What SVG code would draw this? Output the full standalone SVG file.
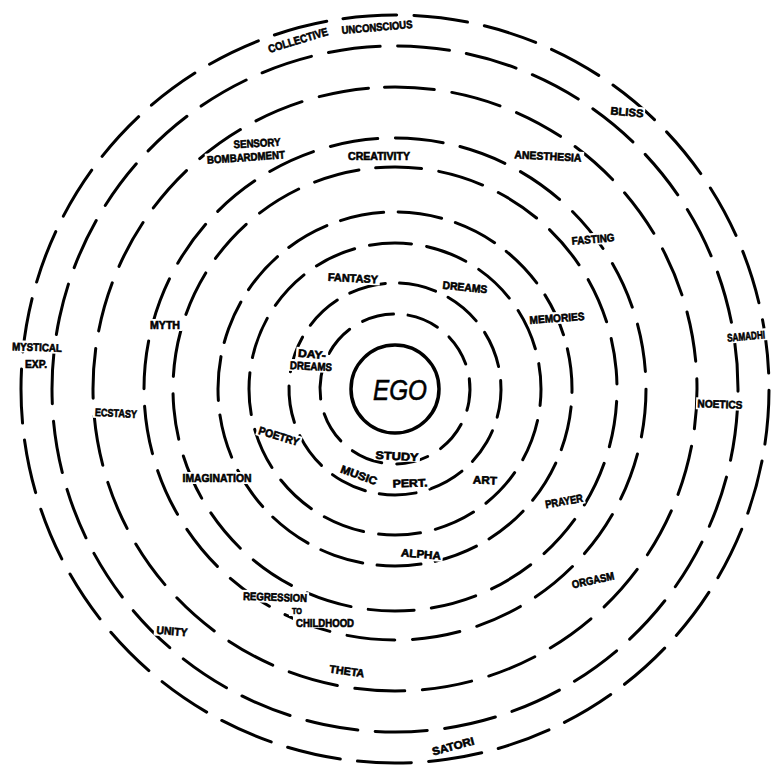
<svg xmlns="http://www.w3.org/2000/svg" width="776" height="768" viewBox="0 0 776 768">
<style>
.ring{fill:none;stroke:#000;stroke-width:3;stroke-linecap:round}
.lb{font-family:"Liberation Sans",Arial,sans-serif;font-weight:bold;font-size:11px;fill:#000;stroke:#000;stroke-width:0.6;text-anchor:middle}
.ego{font-family:"Liberation Sans",Arial,sans-serif;font-style:italic;font-size:30px;fill:#000;stroke:#000;stroke-width:0.6;text-anchor:middle}
.k{fill:#000}
</style>
<defs>
<mask id="gaps" maskUnits="userSpaceOnUse" x="0" y="0" width="776" height="768">
<rect width="776" height="768" fill="#fff"/>
<rect class="k" x="265" y="34" width="66" height="12" transform="rotate(-17 298 40)"/>
<rect class="k" x="340" y="21" width="75" height="12" transform="rotate(-5 377 27)"/>
<rect class="k" x="608" y="106" width="37" height="12" transform="rotate(5 627 112)"/>
<rect class="k" x="232" y="137" width="51" height="12" transform="rotate(-3 257 143)"/>
<rect class="k" x="205" y="151" width="82" height="12" transform="rotate(-4 246 157)"/>
<rect class="k" x="346" y="150" width="66" height="12"/>
<rect class="k" x="513" y="150" width="71" height="12" transform="rotate(3 548 156)"/>
<rect class="k" x="570" y="233" width="47" height="12" transform="rotate(-5 593 239)"/>
<rect class="k" x="528" y="312" width="59" height="12" transform="rotate(-4 557 318)"/>
<rect class="k" x="724" y="330" width="44" height="12" transform="rotate(-5 746 336)"/>
<rect class="k" x="696" y="398" width="49" height="12" transform="rotate(2 720 404)"/>
<rect class="k" x="10" y="341" width="54" height="12" transform="rotate(2 37 347)"/>
<rect class="k" x="23" y="358" width="26" height="12"/>
<rect class="k" x="148" y="319" width="34" height="12"/>
<rect class="k" x="93" y="407" width="46" height="12" transform="rotate(3 116 413)"/>
<rect class="k" x="181" y="472" width="73" height="12"/>
<rect class="k" x="256" y="430" width="46" height="12" transform="rotate(17 279 436)"/>
<rect class="k" x="296" y="348" width="32" height="12" transform="rotate(5 312 354)"/>
<rect class="k" x="288" y="360" width="46" height="12" transform="rotate(3 311 366)"/>
<rect class="k" x="326" y="272" width="54" height="12" transform="rotate(3 353 278)"/>
<rect class="k" x="441" y="281" width="49" height="12" transform="rotate(6 465 287)"/>
<rect class="k" x="374" y="451" width="46" height="10" transform="rotate(3 397 457)"/>
<rect class="k" x="337" y="469" width="44" height="12" transform="rotate(20 359 475)"/>
<rect class="k" x="391" y="477" width="39" height="12" transform="rotate(-2 410 483)"/>
<rect class="k" x="471" y="474" width="28" height="12" transform="rotate(2 485 480)"/>
<rect class="k" x="543" y="495" width="42" height="12" transform="rotate(-10 564 501)"/>
<rect class="k" x="399" y="548" width="44" height="12" transform="rotate(5 421 554)"/>
<rect class="k" x="570" y="574" width="47" height="12" transform="rotate(-12 593 580)"/>
<rect class="k" x="241" y="591" width="68" height="12" transform="rotate(2 275 597)"/>
<rect class="k" x="289" y="606" width="16" height="10"/>
<rect class="k" x="293" y="616" width="64" height="12"/>
<rect class="k" x="154" y="625" width="35" height="12" transform="rotate(5 172 631)"/>
<rect class="k" x="327" y="665" width="39" height="12" transform="rotate(8 347 671)"/>
<rect class="k" x="431" y="741" width="45" height="11" transform="rotate(-15 453 746)"/>
</mask>
</defs>
<rect width="776" height="768" fill="#fff"/>
<g id="connectors" mask="url(#gaps)">
<circle class="ring" cx="395" cy="389" r="75" stroke-dasharray="32 15.1" transform="rotate(-80 395 389)"/>
<circle class="ring" cx="395" cy="389" r="106" stroke-dasharray="37 14.2" transform="rotate(-60 395 389)"/>
<circle class="ring" cx="395" cy="389" r="146" stroke-dasharray="42 15.3" transform="rotate(-100 395 389)"/>
<circle class="ring" cx="395" cy="389" r="177" stroke-dasharray="44 14.5" transform="rotate(-70 395 389)"/>
<circle class="ring" cx="395" cy="389" r="222" stroke-dasharray="46 17.4" transform="rotate(-95 395 389)"/>
<circle class="ring" cx="395" cy="389" r="251" stroke-dasharray="48 17.7" transform="rotate(-75 395 389)"/>
<circle class="ring" cx="395" cy="389" r="302" stroke-dasharray="50 17.8" transform="rotate(-92 395 389)"/>
<circle class="ring" cx="395" cy="389" r="343" stroke-dasharray="52 17.5" transform="rotate(-78 395 389)"/>
<circle class="ring" cx="395" cy="389" r="374" stroke-dasharray="54 17.2" transform="rotate(-98 395 389)"/>
</g>
<g id="ego">
<circle cx="395" cy="389" r="44" fill="none" stroke="#000" stroke-width="3.5"/>
<text class="ego" x="400" y="400" textLength="54" lengthAdjust="spacingAndGlyphs">EGO</text>
</g>
<g id="labels">
<text class="lb" x="298" y="44" textLength="62" lengthAdjust="spacingAndGlyphs" transform="rotate(-17 298 40)">COLLECTIVE</text>
<text class="lb" x="377" y="31" textLength="71" lengthAdjust="spacingAndGlyphs" transform="rotate(-5 377 27)">UNCONSCIOUS</text>
<text class="lb" x="627" y="116" textLength="33" lengthAdjust="spacingAndGlyphs" transform="rotate(5 627 112)">BLISS</text>
<text class="lb" x="257" y="147" textLength="47" lengthAdjust="spacingAndGlyphs" transform="rotate(-3 257 143)">SENSORY</text>
<text class="lb" x="246" y="161" textLength="78" lengthAdjust="spacingAndGlyphs" transform="rotate(-4 246 157)">BOMBARDMENT</text>
<text class="lb" x="379" y="160" textLength="62" lengthAdjust="spacingAndGlyphs">CREATIVITY</text>
<text class="lb" x="548" y="160" textLength="67" lengthAdjust="spacingAndGlyphs" transform="rotate(3 548 156)">ANESTHESIA</text>
<text class="lb" x="593" y="243" textLength="43" lengthAdjust="spacingAndGlyphs" transform="rotate(-5 593 239)">FASTING</text>
<text class="lb" x="557" y="322" textLength="55" lengthAdjust="spacingAndGlyphs" transform="rotate(-4 557 318)">MEMORIES</text>
<text class="lb" x="746" y="340" textLength="38" lengthAdjust="spacingAndGlyphs" transform="rotate(-5 746 336)">SAMADHI</text>
<text class="lb" x="720" y="408" textLength="45" lengthAdjust="spacingAndGlyphs" transform="rotate(2 720 404)">NOETICS</text>
<text class="lb" x="37" y="351" textLength="50" lengthAdjust="spacingAndGlyphs" transform="rotate(2 37 347)">MYSTICAL</text>
<text class="lb" x="36" y="368" textLength="22" lengthAdjust="spacingAndGlyphs">EXP.</text>
<text class="lb" x="165" y="329" textLength="30" lengthAdjust="spacingAndGlyphs">MYTH</text>
<text class="lb" x="116" y="417" textLength="42" lengthAdjust="spacingAndGlyphs" transform="rotate(3 116 413)">ECSTASY</text>
<text class="lb" x="217" y="482" textLength="69" lengthAdjust="spacingAndGlyphs">IMAGINATION</text>
<text class="lb" x="279" y="440" textLength="42" lengthAdjust="spacingAndGlyphs" transform="rotate(17 279 436)">POETRY</text>
<text class="lb" x="312" y="358" textLength="28" lengthAdjust="spacingAndGlyphs" transform="rotate(5 312 354)">DAY-</text>
<text class="lb" x="311" y="370" textLength="42" lengthAdjust="spacingAndGlyphs" transform="rotate(3 311 366)">DREAMS</text>
<text class="lb" x="353" y="282" textLength="50" lengthAdjust="spacingAndGlyphs" transform="rotate(3 353 278)">FANTASY</text>
<text class="lb" x="465" y="291" textLength="45" lengthAdjust="spacingAndGlyphs" transform="rotate(6 465 287)">DREAMS</text>
<text class="lb" x="397" y="460" textLength="43" lengthAdjust="spacingAndGlyphs" transform="rotate(3 397 457)">STUDY</text>
<text class="lb" x="359" y="479" textLength="38" lengthAdjust="spacingAndGlyphs" transform="rotate(20 359 475)">MUSIC</text>
<text class="lb" x="410" y="487" textLength="35" lengthAdjust="spacingAndGlyphs" transform="rotate(-2 410 483)">PERT.</text>
<text class="lb" x="485" y="484" textLength="24" lengthAdjust="spacingAndGlyphs" transform="rotate(2 485 480)">ART</text>
<text class="lb" x="564" y="505" textLength="38" lengthAdjust="spacingAndGlyphs" transform="rotate(-10 564 501)">PRAYER</text>
<text class="lb" x="421" y="558" textLength="40" lengthAdjust="spacingAndGlyphs" transform="rotate(5 421 554)">ALPHA</text>
<text class="lb" x="593" y="584" textLength="43" lengthAdjust="spacingAndGlyphs" transform="rotate(-12 593 580)">ORGASM</text>
<text class="lb" x="275" y="601" textLength="64" lengthAdjust="spacingAndGlyphs" transform="rotate(2 275 597)">REGRESSION</text>
<text class="lb" x="297" y="614" textLength="10" lengthAdjust="spacingAndGlyphs" style="font-size:9px">TO</text>
<text class="lb" x="325" y="627" textLength="58" lengthAdjust="spacingAndGlyphs">CHILDHOOD</text>
<text class="lb" x="172" y="635" textLength="31" lengthAdjust="spacingAndGlyphs" transform="rotate(5 172 631)">UNITY</text>
<text class="lb" x="347" y="675" textLength="35" lengthAdjust="spacingAndGlyphs" transform="rotate(8 347 671)">THETA</text>
<text class="lb" x="453" y="750" textLength="43" lengthAdjust="spacingAndGlyphs" transform="rotate(-15 453 746)">SATORI</text>
</g>
</svg>
